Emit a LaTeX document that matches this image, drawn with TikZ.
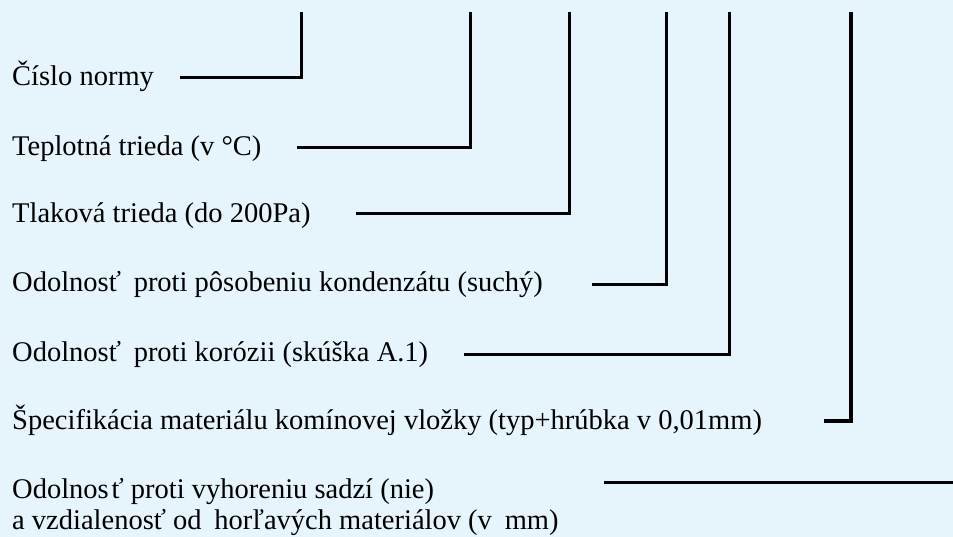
\documentclass[tikz,border=0pt]{standalone}
\usepackage{fontspec}
\setmainfont{Liberation Serif}
\definecolor{paper}{RGB}{230,244,251}
\tikzset{
  x=1pt, y=-1pt,
  label/.style={anchor=base west, inner sep=0pt, font=\fontsize{28.5}{30}\selectfont},
  leader/.style={line width=3pt, line join=miter, line cap=rect},
  heavy/.style={leader, line width=4pt}
}
\begin{document}
\begin{tikzpicture}
\fill[paper] (0,0) rectangle (953,537);
\useasboundingbox (0,0) rectangle (953,537);

% descriptions
\node[label] (n1) at (12,86)  {Číslo normy};
\node[label] (n2) at (12,156) {Teplotná trieda (v °C)};
\node[label] (n3) at (12,223) {Tlaková trieda (do 200Pa)};
\node[label] (n4) at (12,292) {Odolnosť\hspace{0.2em} proti pôsobeniu kondenzátu (suchý)};
\node[label] (n5) at (12,361) {Odolnosť\hspace{0.2em} proti korózii (skúška A.1)};
\node[label] (n6) at (12,429) {Špecifikácia materiálu komínovej vložky (typ+hrúbka v 0,01mm)};
\node[label] (n7) at (12,498) {Odolnos\hspace{0.1em}ť proti vyhoreniu sadzí (nie)};
\node[label] (n8) at (12,529) {a vzdialenosť od\hspace{0.2em} horľavých materiálov (v\hspace{0.2em} mm)};

% leader start points beside the texts
\coordinate (s1) at (181,78);
\coordinate (s2) at (298,148);
\coordinate (s3) at (357,214);
\coordinate (s4) at (593,285);
\coordinate (s5) at (465,354);
\coordinate (s6) at (826,421);
\coordinate (s7) at (604,482);

% leader tops
\coordinate (t1) at (301,14);
\coordinate (t2) at (470,14);
\coordinate (t3) at (569,14);
\coordinate (t4) at (666,14);
\coordinate (t5) at (729,14);
\coordinate (t6) at (851,14);
\coordinate (t7) at (953,482);

\draw[leader] (s1) -| (t1);
\draw[leader] (s2) -| (t2);
\draw[leader] (s3) -| (t3);
\draw[leader] (s4) -| (t4);
\draw[leader] (s5) -| (t5);
\draw[heavy]  (s6) -| (t6);
\draw[leader, line cap=butt] (s7) -- (t7);
\end{tikzpicture}
\end{document}
